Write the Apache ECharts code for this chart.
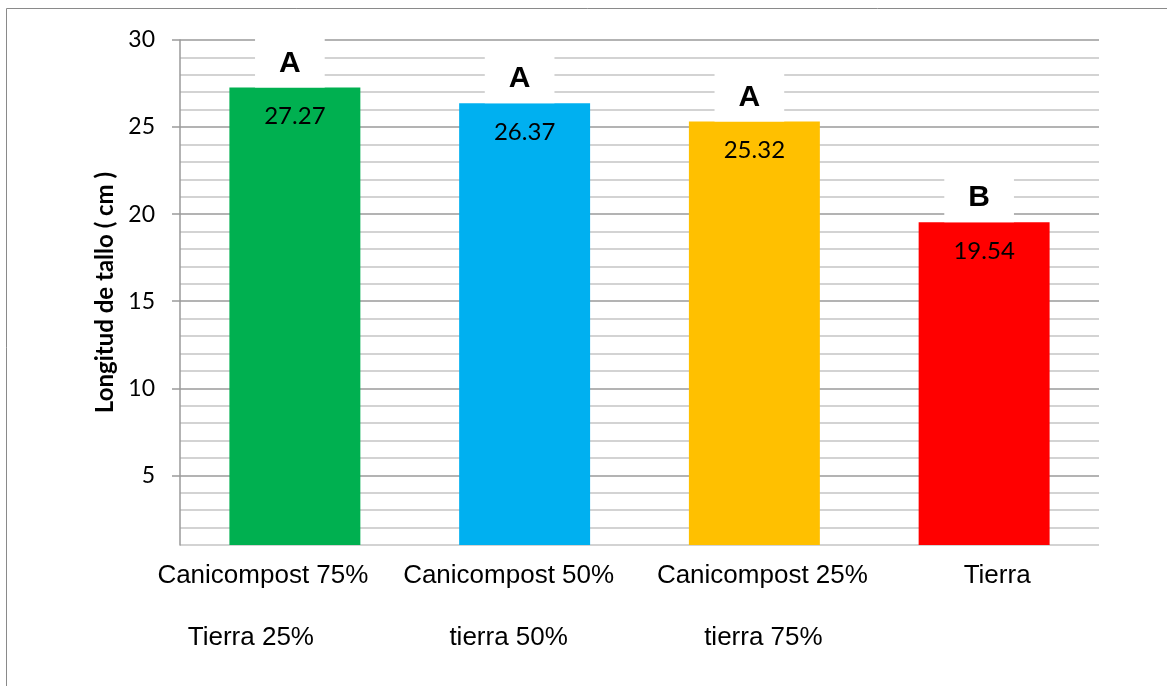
<!DOCTYPE html>
<html>
<head>
<meta charset="utf-8">
<script src="https://cdn.jsdelivr.net/npm/echarts@6/dist/echarts.min.js"></script>
<style>
  html, body { margin: 0; padding: 0; background: #fff; }
  #chart { width: 1167px; height: 686px; }
</style>
</head>
<body>
<div id="chart"></div>
<script>
// Treatments, written as two-line category names
const treatmentMix = ['Canicompost 75%', 'Canicompost 50%', 'Canicompost 25%', 'Tierra'];
const treatmentSoil = ['Tierra 25%', 'tierra 50%', 'tierra 75%', ''];
// Mean stem length (cm)
const stemLength = [27.27, 26.37, 25.32, 19.54];
// Significance groups shown above each bar
const groupLetter = ['A', 'A', 'A', 'B'];
// Labelled values on the length axis
const yTickValues = [5, 10, 15, 20, 25, 30];

// Styling
const barColors = ['#00B050', '#00B0F0', '#FFC000', '#FF0000'];
const labelShift = [[-32, -44], [-16, -16], [8, 9], [13, 0]]; // px nudge per label line
const minorGrid = '#c4c4c4';
const majorGrid = '#9a9a9a';
const uiFont = 'Lato, "Open Sans", sans-serif';
const arialFont = '"Liberation Sans", Arial, sans-serif';

const categories = treatmentMix.map((m, i) => treatmentSoil[i] ? m + '\n' + treatmentSoil[i] : m);

// rich styles: one per label line so each line can be nudged sideways
const rich = {};
labelShift.forEach((pair, i) => {
  pair.forEach((s, j) => {
    rich['c' + i + 'l' + j] = {
      fontFamily: arialFont,
      fontSize: 26,
      lineHeight: 62,
      color: '#000',
      padding: [0, s < 0 ? -2 * s : 0, 0, s > 0 ? 2 * s : 0]
    };
  });
});

const chart = echarts.init(document.getElementById('chart'), null, { renderer: 'canvas' });

chart.setOption({
  backgroundColor: '#fff',
  animation: false,
  graphic: [{
    type: 'rect',
    shape: { x: 6.5, y: 8.5, width: 1200, height: 700 },
    style: { fill: 'none', stroke: '#8a8a8a', lineWidth: 1 },
    silent: true,
    z: -10
  }],
  grid: { left: 180, right: 68, top: 40, bottom: 141, containLabel: false },
  xAxis: {
    type: 'category',
    data: categories,
    axisLine: { show: false },
    axisTick: { show: false },
    axisLabel: {
      margin: 0,
      interval: 0,
      rich: rich,
      formatter: (value, index) => {
        const lines = value.split('\n');
        return lines.map((t, j) => '{c' + index + 'l' + j + '|' + t + '}').join('\n');
      }
    }
  },
  yAxis: [{
    type: 'value',
    min: 1,
    max: 30,
    interval: 1,
    axisLine: { show: false },
    axisTick: { show: false },
    axisLabel: { show: false },
    splitLine: {
      show: true,
      lineStyle: { color: [minorGrid, minorGrid, minorGrid, minorGrid, majorGrid], width: 1.5 }
    }
  }, {
    type: 'value',
    min: 1,
    max: 30,
    interval: 1,
    position: 'left',
    splitLine: { show: false },
    axisLine: { show: true, lineStyle: { color: majorGrid, width: 1.5 } },
    axisTick: { show: true, customValues: yTickValues, length: 8, lineStyle: { color: majorGrid, width: 1.5 } },
    axisLabel: {
      customValues: yTickValues,
      margin: 25,
      fontFamily: uiFont,
      fontSize: 23,
      color: '#000'
    },
    name: 'Longitud de tallo ( cm )',
    nameLocation: 'middle',
    nameRotate: 90,
    nameGap: 63,
    nameTextStyle: {
      fontFamily: uiFont,
      fontSize: 24,
      fontWeight: 'bold',
      color: '#000'
    }
  }],
  series: [{
    type: 'bar',
    yAxisIndex: 0,
    barWidth: '57%',
    data: stemLength.map((v, i) => ({ value: v, itemStyle: { color: barColors[i] } })),
    label: {
      show: true,
      position: 'insideTop',
      distance: 17,
      fontFamily: uiFont,
      fontSize: 24,
      color: '#000',
      formatter: p => stemLength[p.dataIndex].toFixed(2)
    }
  }, {
    type: 'bar',
    yAxisIndex: 0,
    barWidth: '57%',
    barGap: '-100%',
    silent: true,
    data: stemLength,
    itemStyle: { color: 'rgba(0,0,0,0)' },
    label: {
      show: true,
      position: 'top',
      distance: 0,
      offset: [-5, 0],
      backgroundColor: '#fff',
      padding: [15, 24, 9, 24],
      fontFamily: arialFont,
      fontSize: 30,
      lineHeight: 30,
      fontWeight: 'bold',
      color: '#000',
      formatter: p => groupLetter[p.dataIndex]
    }
  }]
});
</script>
</body>
</html>
